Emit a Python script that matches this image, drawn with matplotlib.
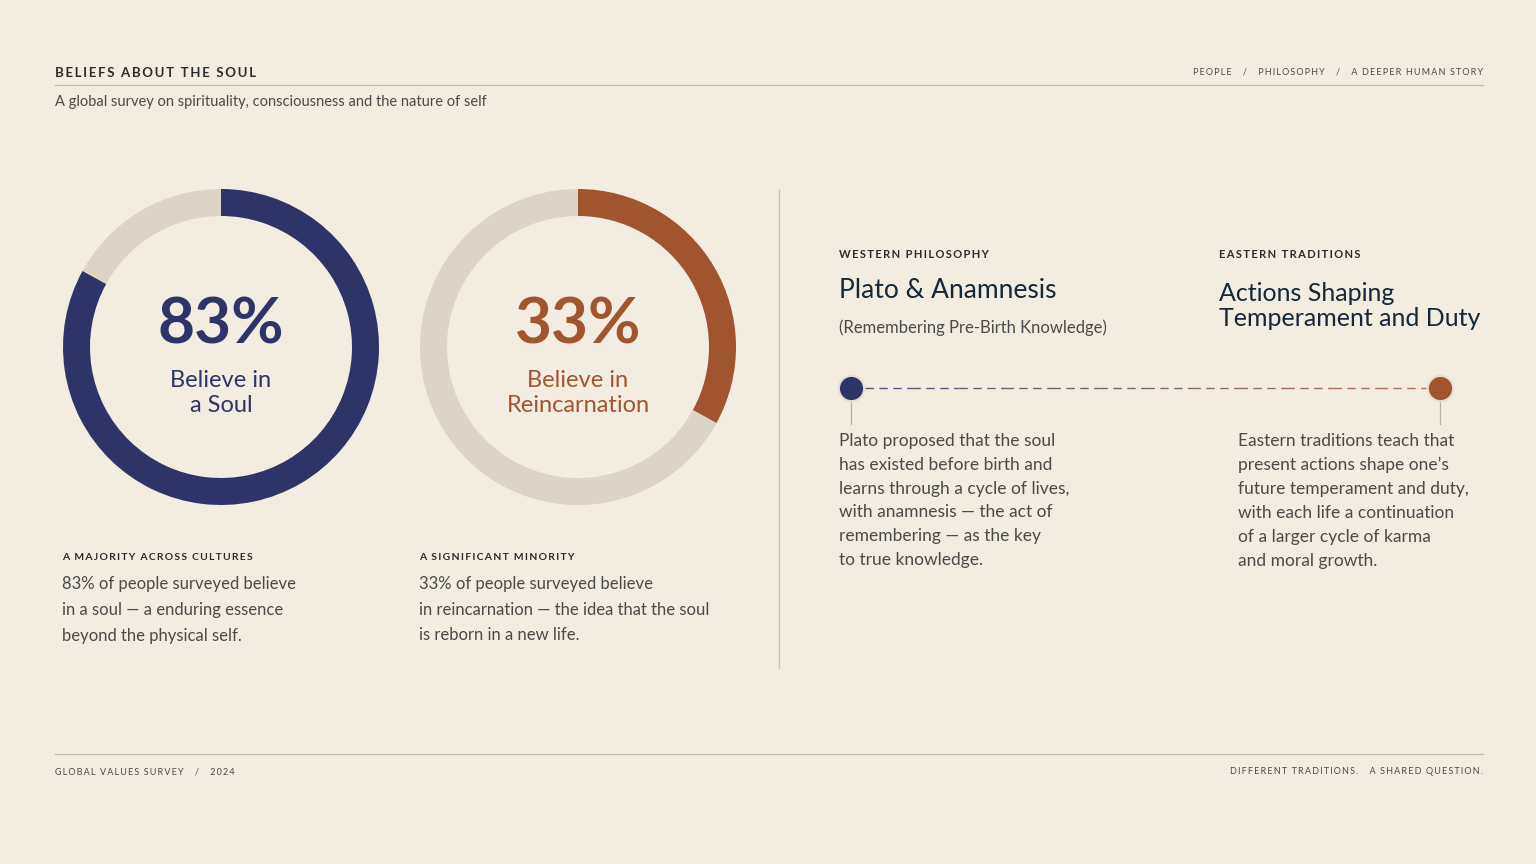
import matplotlib.pyplot as plt
import numpy as np

plt.rcParams['font.family'] = ['Lato', 'DejaVu Sans']

bg = '#F3ECE0'
navy = '#2E3468'
rust = '#A0552E'
track = '#DDD3C6'
ink = '#2B2B2B'
body = '#4A4A4A'
dark = '#13283A'

# data
shares = [83, 33]
share_labels = ['Believe in\na Soul', 'Believe in\nReincarnation']
share_colors = [navy, rust]
kickers = ['A MAJORITY ACROSS CULTURES', 'A SIGNIFICANT MINORITY']
notes = ['83% of people surveyed believe\nin a soul — a enduring essence\nbeyond the physical self.',
         '33% of people surveyed believe\nin reincarnation — the idea that the soul\nis reborn in a new life.']
centers_x = [221, 578]

W, H = 1536, 864
fig = plt.figure(figsize=(W / 100, H / 100), dpi=100)
fig.patch.set_facecolor(bg)
ax = fig.add_axes([0, 0, 1, 1])
ax.set_xlim(0, W)
ax.set_ylim(H, 0)
ax.axis('off')


def sp(s):
    return '\u2009'.join(s)


# header
ax.text(55, 73, sp('BELIEFS ABOUT THE SOUL'), fontsize=9.5, color=ink, va='center', fontweight='bold')
ax.text(1483, 72, sp('PEOPLE') + '     /     ' + sp('PHILOSOPHY') + '     /     ' + sp('A DEEPER HUMAN STORY'),
        fontsize=6.5, color=body, va='center', ha='right')
ax.plot([55, 1483], [85, 85], color='#BDB5A8', lw=0.8)
ax.text(55, 102, 'A global survey on spirituality, consciousness and the nature of self',
        fontsize=10.5, color=body, va='center')

# donuts
R, thick = 158, 27
for v, lab, col, cx, kick, note in zip(shares, share_labels, share_colors, centers_x, kickers, notes):
    dax = fig.add_axes([(cx - R) / W, (H - 347 - R) / H, 2 * R / W, 2 * R / H])
    dax.pie([v, 100 - v], colors=[col, track], startangle=90, counterclock=False,
            radius=1, wedgeprops=dict(width=thick / R, linewidth=0))
    dax.set_xlim(-1, 1)
    dax.set_ylim(-1, 1)
    dax.set_aspect('equal')
    dax.axis('off')
    ax.text(cx, 325, f'{v}%', fontsize=46, fontweight='bold', color=col, ha='center', va='center')
    ax.text(cx, 393, lab, fontsize=17, color=col, ha='center', va='center', linespacing=1.25)
    ax.text(cx - 159, 558, sp(kick), fontsize=7.5, color=ink, va='center', fontweight='bold')
    ax.text(cx - 159, 576, note, fontsize=12, color=body, va='top', linespacing=1.75)

# divider
ax.plot([779, 779], [190, 668], color='#C9C0B3', lw=1)

# right panel
ax.text(839, 255, sp('WESTERN PHILOSOPHY'), fontsize=8, color=ink, va='center', fontweight='bold')
ax.text(839, 291, 'Plato & Anamnesis', fontsize=19, color=dark, va='center')
ax.text(839, 328, '(Remembering Pre-Birth Knowledge)', fontsize=12, color=body, va='center')
ax.text(1219, 255, sp('EASTERN TRADITIONS'), fontsize=8, color=ink, va='center', fontweight='bold')
ax.text(1219, 306, 'Actions Shaping\nTemperament and Duty', fontsize=18, color=dark, va='center',
        linespacing=1.15)

# timeline
x0, x1, ty = 851, 1440, 388
n = 12
xs = np.linspace(x0 + 14, x1 - 14, n + 1)
c0 = np.array([0x2E, 0x34, 0x68]) / 255
c1 = np.array([0xA0, 0x55, 0x2E]) / 255
for i in range(n):
    t = i / (n - 1)
    ax.plot(xs[i:i + 2], [ty, ty], color=tuple(c0 * (1 - t) + c1 * t), lw=1,
            dashes=(6, 4), alpha=0.8)
for xx, col in [(x0, navy), (x1, rust)]:
    ax.plot([xx, xx], [ty, 424], color='#B8AFA2', lw=0.9)
    ax.scatter([xx], [ty], s=330, color=col, zorder=5, edgecolors='#E6DDD0', linewidths=1.5)

ax.text(839, 433, 'Plato proposed that the soul\nhas existed before birth and\nlearns through a cycle of lives,\n'
        'with anamnesis — the act of\nremembering — as the key\nto true knowledge.',
        fontsize=12.5, color=body, va='top', linespacing=1.6)
ax.text(1238, 433, 'Eastern traditions teach that\npresent actions shape one\u2019s\nfuture temperament and duty,\n'
        'with each life a continuation\nof a larger cycle of karma\nand moral growth.',
        fontsize=12.5, color=body, va='top', linespacing=1.6)

# footer
ax.plot([55, 1483], [754, 754], color='#BDB5A8', lw=0.8)
ax.text(55, 772, sp('GLOBAL VALUES SURVEY') + '     /     ' + sp('2024'), fontsize=6.5, color=body, va='center')
ax.text(1483, 772, sp('DIFFERENT TRADITIONS.') + '     ' + sp('A SHARED QUESTION.'),
        fontsize=6.5, color=body, va='center', ha='right')

fig.savefig('out.png', dpi=100, facecolor=bg)
